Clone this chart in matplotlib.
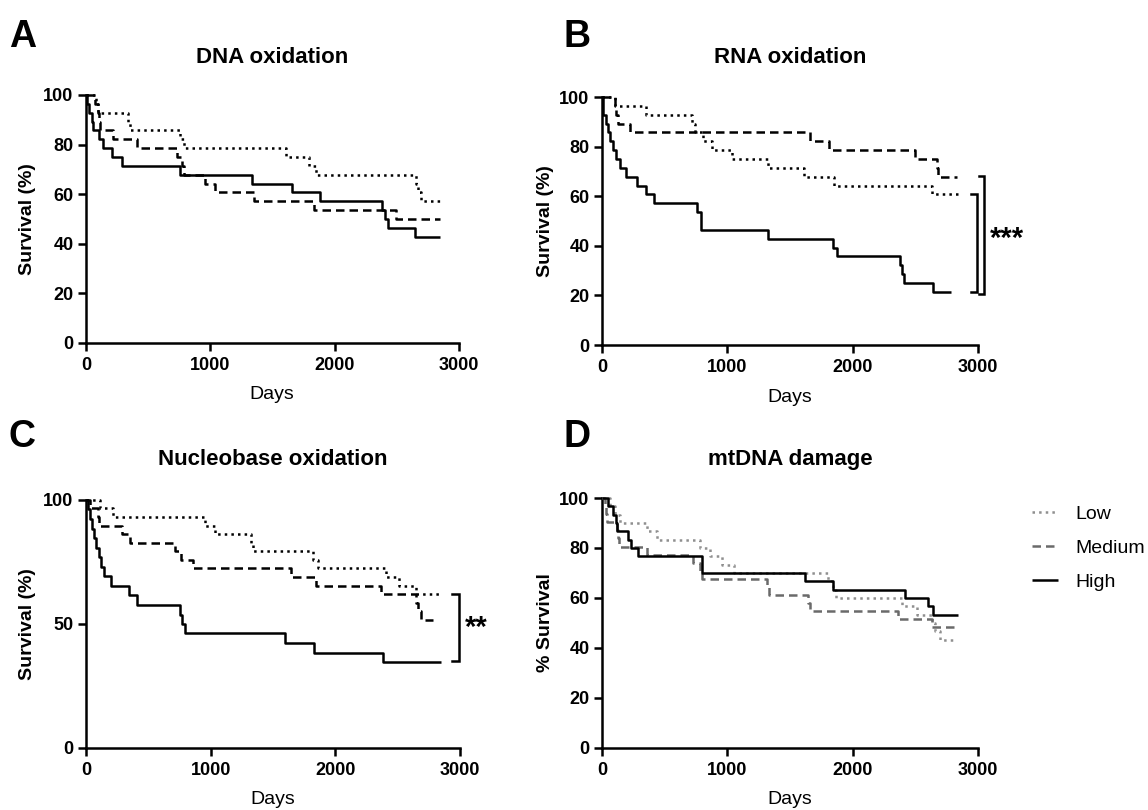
import matplotlib
matplotlib.use('Agg')
import matplotlib.pyplot as plt
from matplotlib.lines import Line2D

plt.rcParams['font.family'] = ['Liberation Sans', 'DejaVu Sans']

# ---------------- data (Kaplan-Meier steps: event days / survival %) ----------------
group_names = ['Low', 'Medium', 'High']
x_ticks = [0, 1000, 2000, 3000]

# A: DNA oxidation
A_low_t = [0, 80, 95, 341, 350, 758, 790, 1605, 1793, 1850, 2653, 2670, 2694]
A_low_s = [100, 96.4, 92.9, 89.3, 85.7, 82.1, 78.6, 75.0, 71.4, 67.9, 64.3, 60.7, 57.1]
A_med_t = [0, 73, 99, 105, 113, 220, 409, 731, 775, 785, 960, 1040, 1349, 1833, 2492]
A_med_s = [100, 96.4, 92.9, 89.3, 85.7, 82.1, 78.6, 75.0, 71.4, 67.9, 64.3, 60.7, 57.1, 53.6, 50.0]
A_high_t = [0, 11, 27, 46, 59, 108, 140, 207, 288, 758, 1336, 1659, 1882, 2384, 2403, 2425, 2645]
A_high_s = [100, 96.4, 92.9, 89.3, 85.7, 82.1, 78.6, 75.0, 71.4, 67.9, 64.3, 60.7, 57.1, 53.6, 50.0, 46.4, 42.9]
A_end = [2849, 2849, 2849]

# B: RNA oxidation
B_low_t = [0, 101, 349, 715, 740, 808, 875, 1040, 1328, 1608, 1848, 2635]
B_low_s = [100, 96.4, 92.9, 89.3, 85.7, 82.1, 78.6, 75.0, 71.4, 67.9, 64.3, 60.7]
B_med_t = [0, 101, 115, 128, 221, 1661, 1808, 2501, 2675, 2680]
B_med_s = [100, 96.4, 92.9, 89.3, 85.7, 82.1, 78.6, 75.0, 71.4, 67.9]
B_high_t = [0, 5, 8, 35, 48, 61, 88, 115, 141, 195, 283, 349, 416, 755, 790, 1328, 1843,
            1875, 2381, 2395, 2413, 2643]
B_high_s = [100, 96.4, 92.9, 89.3, 85.7, 82.1, 78.6, 75.0, 71.4, 67.9, 64.3, 60.7, 57.1,
            53.6, 46.4, 42.9, 39.3, 35.7, 32.1, 28.6, 25.0, 21.4]
B_end = [2848, 2835, 2787]

# C: Nucleobase oxidation
C_low_t = [0, 112, 219, 952, 1032, 1325, 1339, 1819, 1859, 2405, 2512, 2645]
C_low_s = [100, 96.6, 93.1, 89.7, 86.2, 82.8, 79.3, 75.9, 72.4, 69.0, 65.5, 62.1]
C_med_t = [0, 32, 100, 107, 285, 352, 712, 765, 859, 1645, 1845, 2365, 2645, 2667, 2685]
C_med_s = [100, 96.6, 93.1, 89.7, 86.2, 82.8, 79.3, 75.9, 72.4, 69.0, 65.5, 62.1, 58.6, 55.2, 51.7]
C_high_t = [0, 19, 32, 45, 64, 80, 104, 120, 144, 200, 347, 411, 752, 773, 792, 1600, 1832, 2379]
C_high_s = [100, 96.2, 92.3, 88.5, 84.6, 80.8, 76.9, 73.1, 69.2, 65.4, 61.5, 57.7, 53.8,
            50.0, 46.2, 42.3, 38.5, 34.6]
C_end = [2845, 2780, 2845]

# D: mtDNA damage
D_low_t = [0, 60, 100, 144, 356, 436, 782, 862, 958, 1051, 1806, 1840, 1870, 2392, 2512,
           2632, 2660, 2700]
D_low_s = [100, 96.7, 93.3, 90.0, 86.7, 83.3, 80.0, 76.7, 73.3, 70.0, 66.7, 63.3, 60.0,
           56.7, 53.3, 50.0, 46.7, 43.3]
D_med_t = [0, 20, 30, 40, 120, 128, 135, 356, 726, 782, 795, 1314, 1330, 1640, 1660, 2365, 2630]
D_med_s = [100, 96.8, 93.5, 90.3, 87.1, 83.9, 80.6, 77.4, 74.2, 71.0, 67.7, 64.5, 61.3,
           58.1, 54.8, 51.6, 48.4]
D_high_t = [0, 50, 85, 112, 117, 210, 228, 290, 795, 800, 1620, 1841, 2418, 2604, 2639]
D_high_s = [100, 96.7, 93.3, 90.0, 86.7, 83.3, 80.0, 76.7, 73.3, 70.0, 66.7, 63.3, 60.0, 56.7, 53.3]
D_end = [2810, 2830, 2844]

# significance brackets: (x_left, x_right, y_top, y_bottom)
B_brackets = [(2941, 2995, 61.0, 21.3), (3008, 3050, 68.2, 20.6)]
C_brackets = [(2939, 2992, 62.2, 35.0)]

# ---------------- figure ----------------
W, H = 1148, 810
fig = plt.figure(figsize=(W / 100, H / 100), dpi=100)


def rect(l, r, t, b):
    return [l / W, 1 - b / H, (r - l) / W, (b - t) / H]


def fx(px):
    return px / W


def fy(py):
    return 1 - py / H


LW = 1.8
BLACK_STYLES = [dict(color='black', ls=':'),
                dict(color='black', ls=(0, (3.4, 2.0))),
                dict(color='black', ls='-')]
GRAY_STYLES = [dict(color='#8f8f8f', ls=':'),
               dict(color='#6a6a6a', ls=(0, (3.4, 2.0))),
               dict(color='black', ls='-')]


def km(ax, t, s, end, style):
    xs = list(t) + [end]
    ys = list(s) + [s[-1]]
    return ax.step(xs, ys, where='post', lw=LW, clip_on=False, zorder=3,
                   dash_capstyle='butt', solid_capstyle='butt', **style)[0]


def style_axes(ax, yticks):
    for sp in ['top', 'right']:
        ax.spines[sp].set_visible(False)
    for sp in ['left', 'bottom']:
        ax.spines[sp].set_linewidth(LW)
    ax.set_xlim(0, 3000)
    ax.set_ylim(0, 100)
    ax.set_xticks(x_ticks)
    ax.set_yticks(yticks)
    ax.tick_params(direction='out', length=6, width=LW, labelsize=13, pad=3)
    for lab in ax.get_xticklabels() + ax.get_yticklabels():
        lab.set_fontweight('bold')
    ax.tick_params(axis='x', pad=4)


panels = [
    ('A', 'DNA oxidation', 'Survival (%)', rect(86, 459, 95, 343),
     [(A_low_t, A_low_s), (A_med_t, A_med_s), (A_high_t, A_high_s)], A_end,
     [0, 20, 40, 60, 80, 100], BLACK_STYLES),
    ('B', 'RNA oxidation', 'Survival (%)', rect(602, 978, 97, 345),
     [(B_low_t, B_low_s), (B_med_t, B_med_s), (B_high_t, B_high_s)], B_end,
     [0, 20, 40, 60, 80, 100], BLACK_STYLES),
    ('C', 'Nucleobase oxidation', 'Survival (%)', rect(86, 460, 500, 748),
     [(C_low_t, C_low_s), (C_med_t, C_med_s), (C_high_t, C_high_s)], C_end,
     [0, 50, 100], BLACK_STYLES),
    ('D', 'mtDNA damage', '% Survival', rect(602, 978, 498, 748),
     [(D_low_t, D_low_s), (D_med_t, D_med_s), (D_high_t, D_high_s)], D_end,
     [0, 20, 40, 60, 80, 100], GRAY_STYLES),
]

axes = {}
for letter, title, ylab, pos, series, ends, yt, styles in panels:
    ax = fig.add_axes(pos)
    handles = []
    for (t, s), e, st in zip(series, ends, styles):
        handles.append(km(ax, t, s, e, st))
    style_axes(ax, yt)
    axes[letter] = (ax, handles)

# panel letters
fig.text(fx(9), fy(47), 'A', fontsize=27, fontweight='bold', va='baseline')
fig.text(fx(563), fy(47), 'B', fontsize=27, fontweight='bold', va='baseline')
fig.text(fx(9), fy(447), 'C', fontsize=27, fontweight='bold', va='baseline')
fig.text(fx(563), fy(447), 'D', fontsize=27, fontweight='bold', va='baseline')

# titles
fig.text(fx(272), fy(63), 'DNA oxidation', fontsize=16, fontweight='bold', ha='center', va='baseline')
fig.text(fx(790), fy(63), 'RNA oxidation', fontsize=16, fontweight='bold', ha='center', va='baseline')
fig.text(fx(273), fy(465), 'Nucleobase oxidation', fontsize=16, fontweight='bold', ha='center', va='baseline')
fig.text(fx(790), fy(465), 'mtDNA damage', fontsize=16, fontweight='bold', ha='center', va='baseline')

# axis labels
fig.text(fx(27), fy(219), 'Survival (%)', fontsize=14, fontweight='bold', rotation=90, ha='center', va='center')
fig.text(fx(546), fy(221), 'Survival (%)', fontsize=14, fontweight='bold', rotation=90, ha='center', va='center')
fig.text(fx(27), fy(624), 'Survival (%)', fontsize=14, fontweight='bold', rotation=90, ha='center', va='center')
fig.text(fx(546), fy(623), '% Survival', fontsize=14, fontweight='bold', rotation=90, ha='center', va='center')
for xc, yc in [(272, 395), (790, 397), (273, 800), (790, 800)]:
    fig.text(fx(xc), fy(yc), 'Days', fontsize=14, ha='center', va='center')

# significance brackets
for key, brs in [('B', B_brackets), ('C', C_brackets)]:
    ax = axes[key][0]
    for x0, x1, yt_, yb_ in brs:
        ax.plot([x0, x1, x1, x0], [yt_, yt_, yb_, yb_], color='black', lw=LW,
                clip_on=False, solid_joinstyle='miter')
axes['B'][0].text(3228, 42.6, '***', fontsize=21, fontweight='bold', ha='center', va='center', clip_on=False)
axes['C'][0].text(3130, 48.6, '**', fontsize=21, fontweight='bold', ha='center', va='center', clip_on=False)

# legend for panel D
fig.legend(axes['D'][1], group_names, loc='upper left', bbox_to_anchor=(fx(1032), fy(505)),
           frameon=False, fontsize=14, handlelength=1.35, handletextpad=0.9,
           labelspacing=0.85, borderaxespad=0, borderpad=0)

fig.savefig('out.png', dpi=100)
